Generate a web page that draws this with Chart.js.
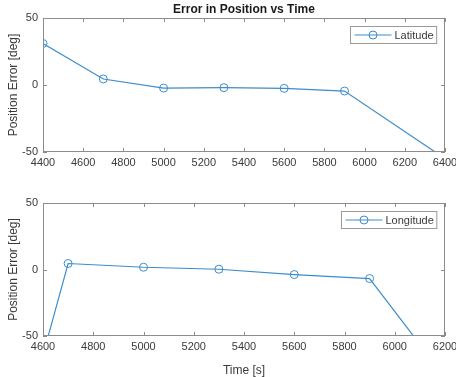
<!DOCTYPE html>
<html lang="en">
<head>
    <meta charset="UTF-8">
    <title>Error in Position vs Time</title>
    <script src="https://cdn.jsdelivr.net/npm/chart.js"></script>
    <style>
        body { margin: 0; background: #fff; }
        .plot { position: absolute; left: 0; width: 456px; }
        #latBox { top: 0; height: 190px; }
        #lonBox { top: 190px; height: 187px; }
    </style>
</head>
<body>
    <div id="latBox" class="plot"><canvas id="latChart"></canvas></div>
    <div id="lonBox" class="plot"><canvas id="lonChart"></canvas></div>
    <script>
        // latitude error samples
        const latTime = [4400, 4700, 5000, 5300, 5600, 5900, 6500];
        const latError = [31, 4.5, -2.3, -2, -2.5, -4.5, -65];

        // longitude error samples
        const lonTime = [4400, 4700, 5000, 5300, 5600, 5900, 6200];
        const lonError = [-202, 4.5, 1.7, 0.2, -3.8, -6.8, -81];

        const yTicks = [-50, 0, 50];

        const FONT = "'Liberation Sans', Arial, sans-serif";
        const BLUE = '#3d8ccc';
        const AXIS = '#8c8c8c';
        const TEXT = '#3a3a3a';

        // box around the axes, inward ticks and a small legend in the corner
        const framePlugin = {
            id: 'frame',
            afterDatasetsDraw(chart) {
                const { ctx, chartArea: a, scales: { x, y } } = chart;
                const len = 4;
                ctx.save();
                ctx.strokeStyle = AXIS;
                ctx.lineWidth = 1;
                ctx.strokeRect(Math.round(a.left) + 0.5, Math.round(a.top) + 0.5,
                    Math.round(a.width) - 1, Math.round(a.height) - 1);
                ctx.beginPath();
                x.ticks.forEach(t => {
                    const px = Math.round(x.getPixelForValue(t.value)) + 0.5;
                    ctx.moveTo(px, a.bottom); ctx.lineTo(px, a.bottom - len);
                    ctx.moveTo(px, a.top); ctx.lineTo(px, a.top + len);
                });
                y.ticks.forEach(t => {
                    const py = Math.round(y.getPixelForValue(t.value)) + 0.5;
                    ctx.moveTo(a.left, py); ctx.lineTo(a.left + len, py);
                    ctx.moveTo(a.right, py); ctx.lineTo(a.right - len, py);
                });
                ctx.stroke();

                // legend
                const ds = chart.data.datasets[0];
                ctx.font = '11px ' + FONT;
                const tw = ctx.measureText(ds.label).width;
                const h = 17;
                const w = 44 + tw + 3;
                const bx = Math.round(a.right - 9 - w) + 0.5;
                const by = Math.round(a.top + 8) + 0.5;
                ctx.fillStyle = '#fff';
                ctx.fillRect(bx, by, w, h);
                ctx.strokeStyle = '#9a9a9a';
                ctx.strokeRect(bx, by, w, h);
                const cy = by + h / 2;
                ctx.strokeStyle = ds.borderColor;
                ctx.lineWidth = ds.borderWidth;
                ctx.beginPath();
                ctx.moveTo(bx + 4, cy); ctx.lineTo(bx + 41, cy);
                ctx.stroke();
                ctx.lineWidth = 1;
                ctx.beginPath();
                ctx.arc(bx + 22.5, cy, ds.pointRadius, 0, Math.PI * 2);
                ctx.stroke();
                ctx.fillStyle = TEXT;
                ctx.textBaseline = 'middle';
                ctx.fillText(ds.label, bx + 44, cy + 0.5);
                ctx.restore();
            }
        };

        function makeChart(id, label, xs, ys, xMin, xMax, opts) {
            const points = xs.map((t, i) => ({ x: t, y: ys[i] }));
            return new Chart(document.getElementById(id), {
                type: 'scatter',
                data: {
                    datasets: [{
                        label: label,
                        data: points,
                        showLine: true,
                        borderColor: BLUE,
                        backgroundColor: 'rgba(0,0,0,0)',
                        borderWidth: 1.2,
                        pointRadius: 4,
                        pointBorderWidth: 1,
                        pointBorderColor: BLUE,
                        pointBackgroundColor: 'rgba(0,0,0,0)'
                    }]
                },
                options: {
                    responsive: true,
                    maintainAspectRatio: false,
                    animation: false,
                    layout: { padding: { left: 0, right: 11, top: opts.top, bottom: 0 } },
                    plugins: {
                        legend: { display: false },
                        tooltip: { enabled: false },
                        title: {
                            display: !!opts.title,
                            text: opts.title,
                            fullSize: false,
                            color: '#1a1a1a',
                            font: { family: FONT, size: 12, weight: 'bold' },
                            padding: { top: 2, bottom: 1.6 }
                        }
                    },
                    scales: {
                        x: {
                            type: 'linear',
                            min: xMin,
                            max: xMax,
                            grid: { display: false, drawTicks: false },
                            border: { display: false },
                            ticks: {
                                stepSize: 200,
                                maxRotation: 0,
                                padding: 4,
                                color: TEXT,
                                font: { family: FONT, size: 11 },
                                callback: v => String(v)
                            },
                            title: {
                                display: !!opts.xTitle,
                                text: opts.xTitle,
                                color: TEXT,
                                font: { family: FONT, size: 12 },
                                padding: { top: 2, bottom: -1 }
                            },
                            afterFit(scale) {
                                scale.height = opts.xHeight;
                                scale.paddingLeft = 0;
                                scale.paddingRight = 0;
                            }
                        },
                        y: {
                            min: -50,
                            max: 50,
                            grid: { display: false, drawTicks: false },
                            border: { display: false },
                            afterBuildTicks(scale) {
                                scale.ticks = yTicks.map(v => ({ value: v }));
                            },
                            ticks: {
                                padding: 5,
                                color: TEXT,
                                font: { family: FONT, size: 11 },
                                callback: v => String(v)
                            },
                            title: {
                                display: true,
                                text: 'Position Error [deg]',
                                color: TEXT,
                                font: { family: FONT, size: 12 },
                                padding: { top: 6, bottom: 0 }
                            },
                            afterFit(scale) {
                                scale.width = 43;
                                scale.paddingTop = 0;
                                scale.paddingBottom = 0;
                            }
                        }
                    }
                },
                plugins: [framePlugin]
            });
        }

        makeChart('latChart', 'Latitude', latTime, latError, 4400, 6400,
            { title: 'Error in Position vs Time', top: 0, xHeight: 38 });
        makeChart('lonChart', 'Longitude', lonTime, lonError, 4600, 6200,
            { top: 13, xHeight: 41, xTitle: 'Time [s]' });
    </script>
</body>
</html>
